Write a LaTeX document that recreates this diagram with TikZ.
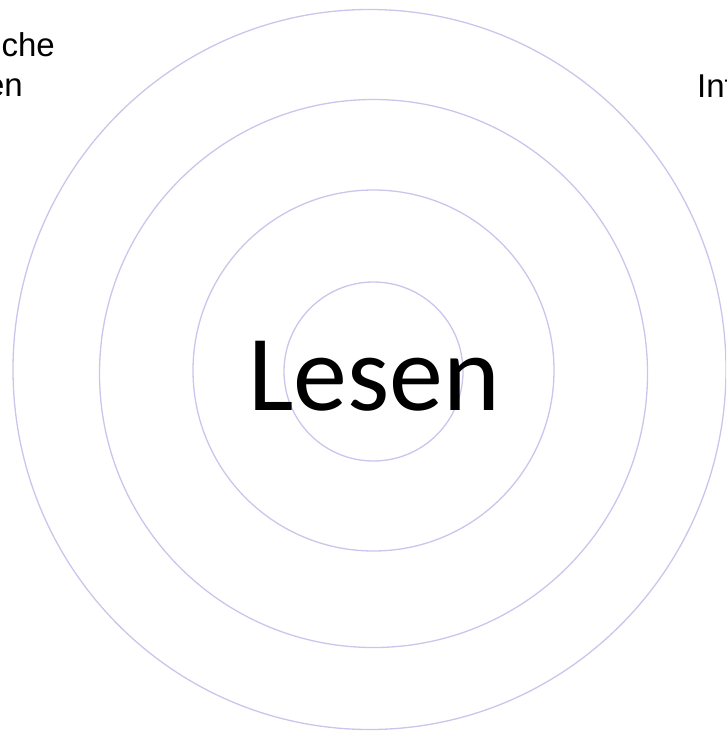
\documentclass[tikz,border=0pt]{standalone}
\usepackage{fontspec}
\setmainfont{Liberation Sans}
\newfontfamily\lesenfont{Carlito}
\definecolor{ringlilac}{RGB}{200,198,236}
\usetikzlibrary{positioning}

\begin{document}
\begin{tikzpicture}[x=1pt,y=-1pt]
  \useasboundingbox (0,0) rectangle (726,731);
  \clip (0,0) rectangle (726,731);

  %% rings around the centre
  \draw[ringlilac,line width=1.3pt] (373.5,371.5) circle[radius=89.5];
  \draw[ringlilac,line width=1.3pt] (373.5,370.5) circle[radius=180.5];
  \draw[ringlilac,line width=1.3pt] (373.5,373.5) circle[radius=274];
  \draw[ringlilac,line width=1.3pt] (369.5,369.5) ellipse[x radius=356.5,y radius=360];

  %% centre word
  \node[font=\lesenfont\fontsize{108}{110}\selectfont,anchor=base,inner sep=0pt]
        (lesen) at (374.5,410) {Lesen};

  %% labels cut at the edges
  \node[font=\fontsize{33}{38}\selectfont,anchor=base east,inner sep=0pt]
        (leftone) at (55,56) {che};
  \node[font=\fontsize{33}{38}\selectfont,anchor=base east,inner sep=0pt]
        (lefttwo) at (23,96) {en};
  \node[font=\fontsize{33}{38}\selectfont,anchor=base west,inner sep=0pt]
        (rightone) at (697,97) {Int};
\end{tikzpicture}
\end{document}
